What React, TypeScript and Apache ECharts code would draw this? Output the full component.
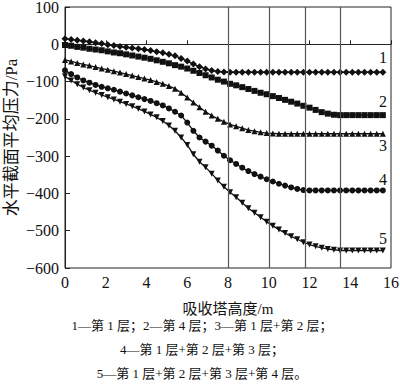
import React, { useEffect, useRef } from "react";
import * as echarts from "echarts";

const heights = [0, 0.3, 0.6, 0.9, 1.2, 1.5, 1.8, 2.1, 2.4, 2.7, 3.0, 3.3, 3.6, 3.9, 4.2, 4.5, 4.8, 5.1, 5.4, 5.7, 6.0, 6.3, 6.6, 6.9, 7.2, 7.5, 7.8, 8.1, 8.4, 8.7, 9.0, 9.3, 9.6, 9.9, 10.2, 10.5, 10.8, 11.1, 11.4, 11.7, 12.0, 12.3, 12.6, 12.9, 13.2, 13.5, 13.8, 14.1, 14.4, 14.7, 15.0, 15.3, 15.6];

const s1 = [15, 13, 11, 9, 7, 4, 2, -1, -3, -6, -8, -10, -12, -14, -17, -20, -23, -27, -31, -38, -45, -53, -60, -66, -70, -73, -74, -75, -75, -75, -75, -75, -75, -75, -75, -75, -75, -75, -75, -75, -75, -75, -75, -75, -75, -75, -75, -75, -75, -75, -75, -75, -75];
const s2 = [-2, -4, -7, -9, -12, -14, -16, -19, -22, -24, -27, -30, -33, -36, -39, -43, -47, -51, -56, -60, -65, -71, -77, -83, -89, -95, -100, -106, -110, -115, -120, -125, -130, -134, -139, -144, -149, -154, -159, -165, -170, -176, -182, -186, -189, -190, -190, -190, -190, -190, -190, -190, -190];
const s3 = [-42, -46, -50, -54, -57, -61, -65, -68, -72, -76, -80, -84, -88, -92, -96, -101, -106, -112, -119, -130, -143, -156, -169, -181, -191, -200, -208, -215, -220, -225, -230, -233, -236, -238, -239, -240, -240, -240, -240, -240, -240, -240, -240, -240, -240, -240, -240, -240, -240, -240, -240, -240, -240];
const s4 = [-70, -80, -89, -97, -103, -109, -114, -118, -122, -127, -132, -137, -142, -147, -152, -158, -164, -172, -181, -191, -210, -232, -250, -261, -272, -285, -299, -311, -321, -331, -340, -348, -355, -362, -368, -374, -379, -384, -388, -391, -392, -392, -392, -392, -392, -392, -392, -392, -392, -392, -392, -392, -392];
const s5 = [-86, -97, -107, -116, -123, -130, -136, -142, -148, -154, -160, -166, -173, -180, -188, -196, -206, -218, -232, -250, -270, -295, -315, -330, -347, -365, -382, -397, -410, -425, -440, -452, -464, -476, -487, -497, -506, -515, -523, -531, -537, -542, -546, -549, -551, -553, -553, -553, -553, -553, -553, -553, -553];

const seriesNames = ["1", "2", "3", "4", "5"];
const seriesSymbols = ["diamond", "rect", "triangle", "circle", "triangle"];
const seriesValues = [s1, s2, s3, s4, s5];
const guideLines = [8, 10, 11.8, 13.5];
const captionLines = [
  "1—第 1 层；2—第 4 层；3—第 1 层+第 2 层；",
  "4—第 1 层+第 2 层+第 3 层；",
  "5—第 1 层+第 2 层+第 3 层+第 4 层。",
];

const FONT = "'Liberation Serif', 'Noto Sans CJK SC', serif";

export default function App() {
  const ref = useRef<HTMLDivElement>(null);
  useEffect(() => {
    if (!ref.current) return;
    const chart = echarts.init(ref.current, undefined, { renderer: "svg" });
    const series: any[] = seriesValues.map((vals, i) => ({
      name: seriesNames[i],
      type: "line",
      data: vals.map((v, j) => [heights[j], v]),
      symbol: seriesSymbols[i],
      symbolRotate: i === 4 ? 180 : 0,
      symbolSize: i === 0 ? 7 : 6,
      showAllSymbol: true,
      lineStyle: { color: "#111", width: 1.3 },
      itemStyle: { color: "#111" },
      z: 3,
    }));
    series[0].markLine = {
      silent: true,
      symbol: ["none", "none"],
      label: { show: false },
      lineStyle: { color: "#555", width: 1.2, type: "solid" },
      data: guideLines.map((x) => ({ xAxis: x })),
    };
    const labelPos = [
      [383, 57],
      [383, 101],
      [383, 145],
      [383, 179],
      [383, 238],
    ];
    chart.setOption({
      animation: false,
      textStyle: { fontFamily: FONT },
      grid: {
        left: 65,
        right: 9,
        top: 7,
        bottom: 117,
        show: true,
        borderColor: "#222",
        borderWidth: 1,
        containLabel: false,
        outerBoundsMode: "none",
      },
      xAxis: {
        type: "value",
        min: 0,
        max: 16,
        interval: 2,
        name: "吸收塔高度/m",
        nameLocation: "middle",
        nameGap: 33,
        nameMoveOverlap: false,
        nameTextStyle: { fontFamily: FONT, fontSize: 15, color: "#111" },
        axisLine: { show: true, lineStyle: { color: "#222", width: 1 } },
        axisTick: { show: true, inside: true, length: 4, lineStyle: { color: "#222" } },
        axisLabel: { fontFamily: FONT, fontSize: 16, color: "#111", margin: 6 },
        splitLine: { show: false },
      },
      yAxis: {
        type: "value",
        min: -600,
        max: 100,
        interval: 100,
        name: "水平截面平均压力/Pa",
        nameLocation: "middle",
        nameGap: 45,
        nameMoveOverlap: false,
        nameTextStyle: { fontFamily: FONT, fontSize: 17, color: "#111" },
        axisLine: { show: true, lineStyle: { color: "#222", width: 1 } },
        axisTick: { show: true, inside: true, length: 5, lineStyle: { color: "#222" } },
        axisLabel: {
          fontFamily: FONT,
          fontSize: 16,
          color: "#111",
          margin: 6,
          formatter: (v: number) => String(v).replace("-", "−"),
        },
        splitLine: { show: false },
      },
      series,
      graphic: [
        ...seriesNames.map((n, i) => ({
          type: "text",
          x: labelPos[i][0],
          y: labelPos[i][1],
          style: {
            text: n,
            font: `16px ${FONT}`,
            fill: "#111",
            textAlign: "center",
            textVerticalAlign: "middle",
          },
        })),
        ...captionLines.map((t, i) => ({
          type: "text",
          x: 202,
          y: [325, 349, 373][i],
          style: {
            text: t,
            font: `13px ${FONT}`,
            fill: "#111",
            textAlign: "center",
            textVerticalAlign: "middle",
          },
        })),
      ],
    });
    return () => chart.dispose();
  }, []);
  return (
    <div
      ref={ref}
      style={{ position: "absolute", left: 0, top: 0, width: 400, height: 385 }}
    />
  );
}
